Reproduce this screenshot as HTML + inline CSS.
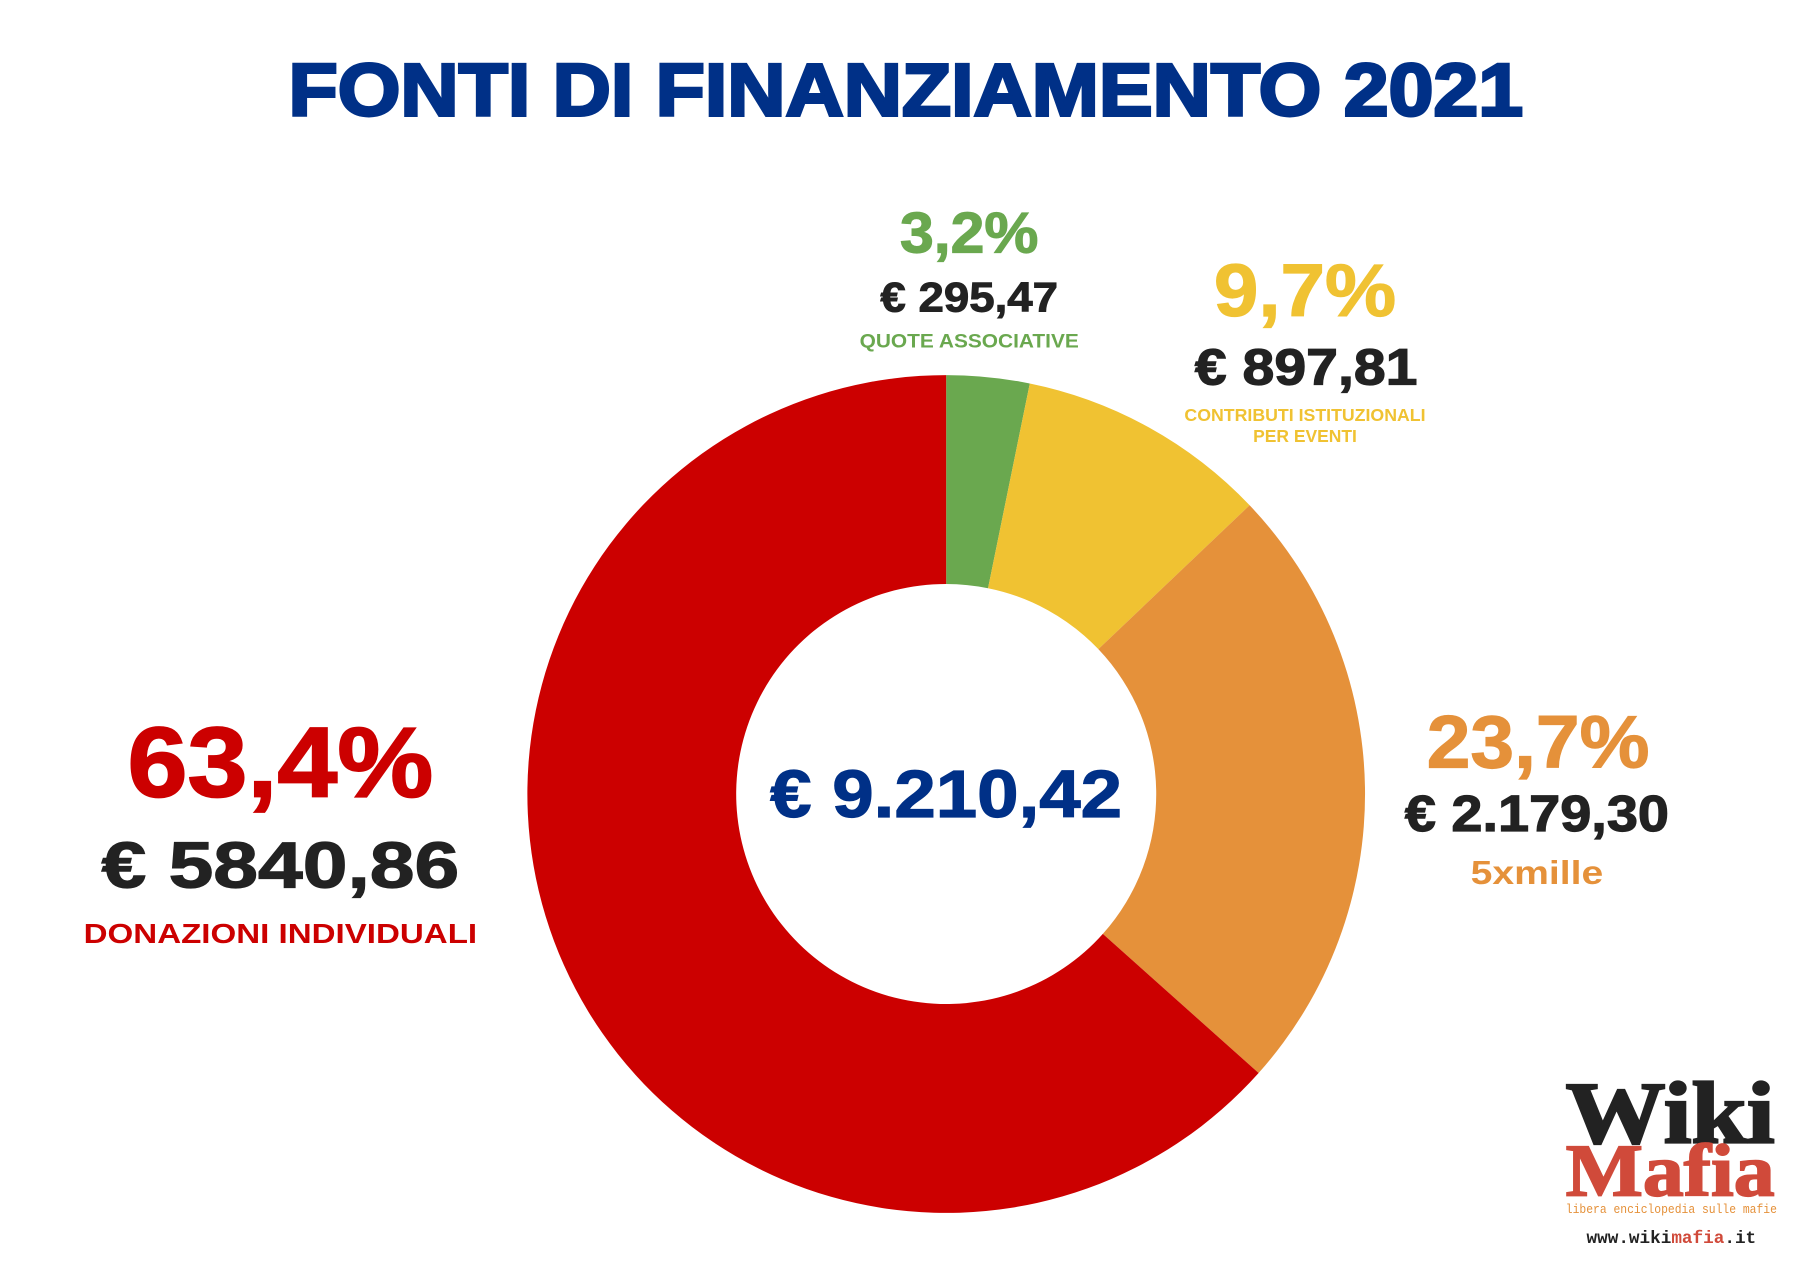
<!DOCTYPE html>
<html><head><meta charset="utf-8"><style>
html,body{margin:0;padding:0;background:#fff;}
svg{display:block;}
text{font-family:"Liberation Sans",sans-serif;font-weight:bold;}
</style></head><body>
<svg width="1800" height="1266" viewBox="0 0 1560 1097" preserveAspectRatio="none" xmlns="http://www.w3.org/2000/svg">
<rect width="1560" height="1097" fill="#fff"/>
<text x="785" y="100" text-anchor="middle" font-size="64" fill="#003087" stroke="#003087" stroke-width="2.5" textLength="1070" lengthAdjust="spacingAndGlyphs">FONTI DI FINANZIAMENTO 2021</text>

<path d="M820,325 A363,363 0 0 1 892.5,332.3 L856.3,509.7 A182,182 0 0 0 820,506 Z" fill="#6aa84f"/>
<path d="M892.5,332.3 A363,363 0 0 1 1083,437.8 L951.9,562.5 A182,182 0 0 0 856.3,509.7 Z" fill="#f0c232"/>
<path d="M1083,437.8 A363,363 0 0 1 1090.8,929.8 L955.8,809.2 A182,182 0 0 0 951.9,562.5 Z" fill="#e5913a"/>
<path d="M1090.8,929.8 A363,363 0 1 1 820,325 L820,506 A182,182 0 1 0 955.8,809.2 Z" fill="#cc0000"/>

<text x="820" y="708" text-anchor="middle" font-size="58" fill="#003087" stroke="#003087" stroke-width="1" textLength="305" lengthAdjust="spacingAndGlyphs">€ 9.210,42</text>

<text x="840" y="219" text-anchor="middle" font-size="50" fill="#6aa84f" stroke="#6aa84f" stroke-width="1" textLength="120" lengthAdjust="spacingAndGlyphs">3,2%</text>
<text x="840" y="270" text-anchor="middle" font-size="36" fill="#222" stroke="#222" stroke-width="0.8" textLength="154" lengthAdjust="spacingAndGlyphs">€ 295,47</text>
<text x="840" y="301" text-anchor="middle" font-size="17" fill="#6aa84f" textLength="190" lengthAdjust="spacingAndGlyphs">QUOTE ASSOCIATIVE</text>

<text x="1131" y="274" text-anchor="middle" font-size="64" fill="#f0c232" stroke="#f0c232" stroke-width="1" textLength="158" lengthAdjust="spacingAndGlyphs">9,7%</text>
<text x="1132" y="333" text-anchor="middle" font-size="44" fill="#222" stroke="#222" stroke-width="1" textLength="193" lengthAdjust="spacingAndGlyphs">€ 897,81</text>
<text x="1131" y="365" text-anchor="middle" font-size="15" fill="#f0c232" textLength="209" lengthAdjust="spacingAndGlyphs">CONTRIBUTI ISTITUZIONALI</text>
<text x="1131" y="383" text-anchor="middle" font-size="15" fill="#f0c232" textLength="90" lengthAdjust="spacingAndGlyphs">PER EVENTI</text>

<text x="1333" y="665" text-anchor="middle" font-size="64" fill="#e5913a" stroke="#e5913a" stroke-width="1" textLength="193" lengthAdjust="spacingAndGlyphs">23,7%</text>
<text x="1332" y="720" text-anchor="middle" font-size="44" fill="#222" stroke="#222" stroke-width="1" textLength="229" lengthAdjust="spacingAndGlyphs">€ 2.179,30</text>
<text x="1332" y="766" text-anchor="middle" font-size="29" fill="#e5913a" textLength="115" lengthAdjust="spacingAndGlyphs">5xmille</text>

<text x="243" y="690" text-anchor="middle" font-size="86" fill="#cc0000" stroke="#cc0000" stroke-width="1.5" textLength="265" lengthAdjust="spacingAndGlyphs">63,4%</text>
<text x="243" y="769" text-anchor="middle" font-size="56" fill="#222" stroke="#222" stroke-width="1" textLength="310" lengthAdjust="spacingAndGlyphs">€ 5840,86</text>
<text x="243" y="817" text-anchor="middle" font-size="24" fill="#cc0000" textLength="341" lengthAdjust="spacingAndGlyphs">DONAZIONI INDIVIDUALI</text>

<text x="1357" y="990" font-size="76" fill="#222" stroke="#222" stroke-width="2" textLength="181" lengthAdjust="spacingAndGlyphs" style="font-family:'Liberation Serif',serif">Wiki</text>
<text x="1357" y="1036" font-size="64" fill="#d04a3a" stroke="#d04a3a" stroke-width="1.5" textLength="181" lengthAdjust="spacingAndGlyphs" style="font-family:'Liberation Serif',serif">Mafia</text>
<text x="1357" y="1051" font-size="11" fill="#e5913a" textLength="183" lengthAdjust="spacingAndGlyphs" style="font-family:'Liberation Mono',monospace;font-weight:normal">libera enciclopedia sulle mafie</text>
<text x="1375" y="1077" font-size="15" fill="#222" textLength="147" lengthAdjust="spacingAndGlyphs" style="font-family:'Liberation Mono',monospace">www.wiki<tspan fill="#d04a3a">mafia</tspan>.it</text>
</svg>
</body></html>
